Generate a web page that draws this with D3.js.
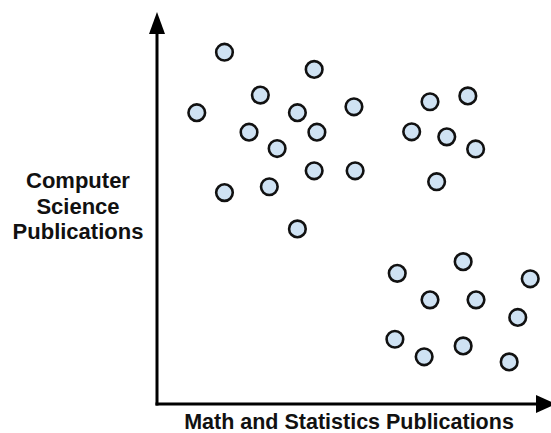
<!DOCTYPE html>
<html>
<head>
<meta charset="utf-8">
<script src="https://cdn.jsdelivr.net/npm/d3@7"></script>
<style>
  html, body { margin: 0; padding: 0; background: #fff; }
  svg { display: block; }
  text { font-family: "Liberation Sans", Arial, sans-serif; font-weight: bold; fill: #111; }
</style>
</head>
<body>
<script>
// Data (arbitrary units)
const mathPubs = [17.3, 40.3, 26.5, 10.2, 36.0, 50.5, 23.6, 41.0, 30.8, 40.3, 50.8, 17.3, 28.8, 36.0,
                  70.0, 79.7, 65.3, 74.3, 81.7, 71.7,
                  78.5, 61.6, 95.7, 70.0, 81.8, 92.5, 61.0, 78.5, 68.5, 90.3];
const csPubs   = [90.2, 85.8, 79.2, 74.7, 74.7, 76.2, 69.7, 69.7, 65.5, 59.8, 59.8, 54.2, 55.7, 44.9,
                  77.5, 79.0, 69.8, 68.5, 65.4, 57.0,
                  36.5, 33.5, 32.1, 26.7, 26.7, 22.2, 16.6, 14.9, 12.1, 10.8];
const xLabel = "Math and Statistics Publications";
const yLabelLines = ["Computer", "Science", "Publications"];

const W = 551, H = 433;
const svg = d3.select("body").append("svg").attr("width", W).attr("height", H);

const x = d3.scaleLinear().domain([0, 100]).range([157, 547]);
const y = d3.scaleLinear().domain([0, 100]).range([404, 14]);

// Axes with arrowheads
const [x0, x1] = x.range();
const [y0, y1] = y.range();
const head = 20, half = 8;
svg.append("path")
  .attr("d", `M${x0},${y0 + 1.5}L${x0},${y1 + head - 2}`)
  .attr("stroke", "#000").attr("stroke-width", 3).attr("fill", "none");
svg.append("path")
  .attr("d", `M${x0 - half},${y1 + head}L${x0},${y1 - 2}L${x0 + half},${y1 + head}Z`)
  .attr("fill", "#000");
svg.append("path")
  .attr("d", `M${x0 - 1.5},${y0}L${x1 - 10},${y0}`)
  .attr("stroke", "#000").attr("stroke-width", 3).attr("fill", "none");
svg.append("path")
  .attr("d", `M${x1 - 11},${y0 - half - 1}L${x1 + 9},${y0}L${x1 - 11},${y0 + half + 1}Z`)
  .attr("fill", "#000");

// Points
svg.append("g").selectAll("circle")
  .data(mathPubs.map((v, i) => ({ mx: v, cs: csPubs[i] })))
  .join("circle")
  .attr("cx", d => x(d.mx))
  .attr("cy", d => y(d.cs))
  .attr("r", 8.3)
  .attr("fill", "#cfe2f3")
  .attr("stroke", "#111")
  .attr("stroke-width", 2.6);

// Labels
svg.append("text")
  .attr("x", 349).attr("y", 429)
  .attr("text-anchor", "middle")
  .style("font-size", "21.5px")
  .text(xLabel);

svg.append("text")
  .attr("text-anchor", "middle")
  .style("font-size", "22px")
  .selectAll("tspan")
  .data(yLabelLines)
  .join("tspan")
  .attr("x", 78)
  .attr("y", (d, i) => 188 + i * 25.5)
  .text(d => d);
</script>
</body>
</html>
